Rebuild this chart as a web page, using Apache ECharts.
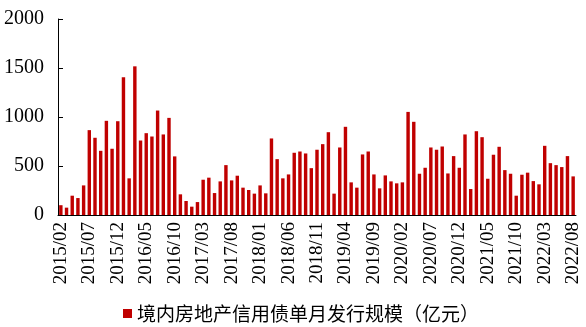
<!DOCTYPE html>
<html>
<head>
<meta charset="utf-8">
<script src="https://cdn.jsdelivr.net/npm/echarts@6/dist/echarts.min.js"></script>
<style>
  html, body { margin: 0; padding: 0; background: #fff; }
  #chart { width: 586px; height: 327px; }
</style>
</head>
<body>
<div id="chart"></div>
<script>
// 月份
var months = [
  '2015/02','2015/03','2015/04','2015/05','2015/06','2015/07','2015/08','2015/09','2015/10','2015/11','2015/12',
  '2016/01','2016/02','2016/03','2016/04','2016/05','2016/06','2016/07','2016/08','2016/09','2016/10','2016/11','2016/12',
  '2017/01','2017/02','2017/03','2017/04','2017/05','2017/06','2017/07','2017/08','2017/09','2017/10','2017/11','2017/12',
  '2018/01','2018/02','2018/03','2018/04','2018/05','2018/06','2018/07','2018/08','2018/09','2018/10','2018/11','2018/12',
  '2019/01','2019/02','2019/03','2019/04','2019/05','2019/06','2019/07','2019/08','2019/09','2019/10','2019/11','2019/12',
  '2020/01','2020/02','2020/03','2020/04','2020/05','2020/06','2020/07','2020/08','2020/09','2020/10','2020/11','2020/12',
  '2021/01','2021/02','2021/03','2021/04','2021/05','2021/06','2021/07','2021/08','2021/09','2021/10','2021/11','2021/12',
  '2022/01','2022/02','2022/03','2022/04','2022/05','2022/06','2022/07','2022/08'
]
// 单月发行规模（亿元）
var issuance = [
  100, 75, 197, 173, 302, 866, 788, 655, 961, 676, 957,
  1405, 374, 1517, 760, 835, 801, 1066, 822, 991, 598, 211, 143,
  85, 132, 360, 381, 224, 343, 509, 353, 401, 279, 255, 218,
  302, 221, 781, 570, 374, 414, 635, 648, 628, 478, 666, 723,
  845, 218, 689, 900, 333, 279, 618, 648, 414, 272, 404, 343,
  323, 333, 1052, 951, 421, 482, 689, 666, 699, 424, 601, 482,
  822, 265, 855, 794, 370, 615, 696, 458, 421, 197, 411, 432,
  346, 313, 706, 529, 509, 489, 601, 394
]
var seriesName = '境内房地产信用债单月发行规模（亿元）'
var yTicks = [0, 500, 1000, 1500, 2000]

var serif = '"Liberation Serif", "Times New Roman", serif'
var cjk = '"Noto Sans CJK SC", sans-serif'

var chart = echarts.init(document.getElementById('chart'))
chart.setOption({
  animation: false,
  grid: {
    left: 58,
    right: 10,
    top: 19,
    bottom: 112
  },
  legend: {
    data: [seriesName],
    left: 118,
    top: 299,
    icon: 'rect',
    itemWidth: 9,
    itemHeight: 9,
    itemGap: 3,
    textStyle: {
      fontFamily: cjk,
      fontSize: 19,
      color: '#000'
    }
  },
  xAxis: {
    type: 'category',
    data: months,
    boundaryGap: true,
    axisLine: { lineStyle: { color: '#000', width: 1 } },
    axisTick: { interval: 4, length: 5, lineStyle: { color: '#000' } },
    axisLabel: {
      interval: 4,
      rotate: 90,
      margin: 7,
      color: '#000',
      fontFamily: serif,
      fontSize: 19
    }
  },
  yAxis: {
    type: 'value',
    min: yTicks[0],
    max: yTicks[yTicks.length - 1],
    interval: 500,
    splitLine: { show: false },
    axisLine: { show: true, lineStyle: { color: '#000', width: 1 } },
    axisTick: { show: true, inside: true, length: 5, lineStyle: { color: '#000' } },
    axisLabel: {
      margin: 14,
      color: '#000',
      fontFamily: serif,
      fontSize: 20,
      formatter: function (v) { return String(v) }
    }
  },
  series: [
    {
      name: seriesName,
      type: 'bar',
      data: issuance,
      barWidth: '60%',
      itemStyle: { color: '#C00000' }
    }
  ]
})
</script>
</body>
</html>
